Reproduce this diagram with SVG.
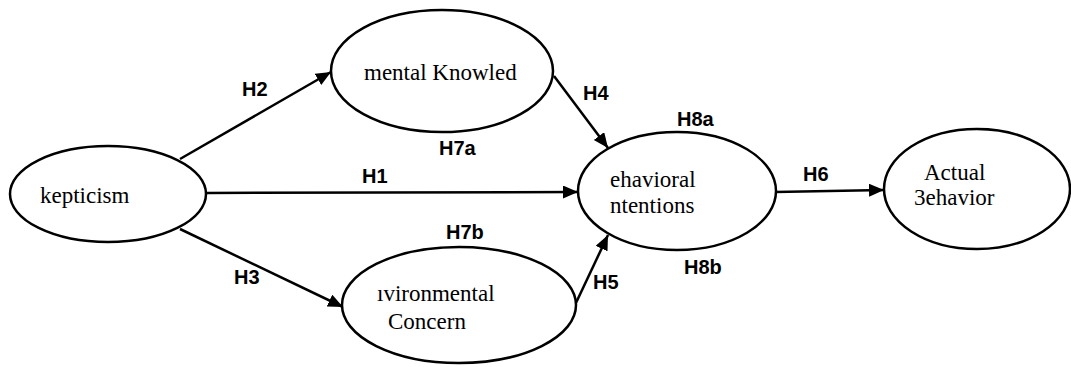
<svg xmlns="http://www.w3.org/2000/svg" width="1071" height="367" viewBox="0 0 1071 367">
<style>
.node ellipse{fill:#fff;stroke:#000;stroke-width:2.5}
.nt{font-family:"Liberation Serif","Times New Roman",serif;font-size:23px;fill:#000}
.lbl{font-family:"Liberation Sans",Arial,sans-serif;font-size:20px;font-weight:bold;fill:#000}
.edge{stroke:#000;stroke-width:2.5;fill:none;marker-end:url(#arr)}
</style>
<defs>
<marker id="arr" markerUnits="userSpaceOnUse" markerWidth="16" markerHeight="14" refX="15" refY="6.5" orient="auto">
<path d="M0,0 L15,6.5 L0,13 z" fill="#000"/>
</marker>
</defs>
<rect width="1071" height="367" fill="#fff"/>
<g id="connectors">
<line class="edge" x1="180" y1="159" x2="331" y2="72"/>
<line class="edge" x1="207" y1="193" x2="578" y2="192"/>
<line class="edge" x1="180" y1="229" x2="343" y2="307"/>
<line class="edge" x1="554" y1="76" x2="608" y2="148"/>
<line class="edge" x1="575" y1="305" x2="608" y2="235"/>
<line class="edge" x1="775" y1="192" x2="884" y2="190"/>
</g>
<g id="skepticism" class="node">
<ellipse cx="108" cy="194" rx="98" ry="48"/>
<text class="nt" x="40" y="203">kepticism</text>
</g>
<g id="knowledge" class="node">
<ellipse cx="442" cy="71" rx="111" ry="61"/>
<text class="nt" x="364" y="80">mental Knowled</text>
</g>
<g id="concern" class="node">
<ellipse cx="459" cy="305" rx="117" ry="58"/>
<text class="nt" x="377" y="301">ıvironmental</text>
<text class="nt" x="388" y="329">Concern</text>
</g>
<g id="intentions" class="node">
<ellipse cx="677" cy="191" rx="99" ry="59"/>
<text class="nt" x="610" y="187">ehavioral</text>
<text class="nt" x="610" y="213">ntentions</text>
</g>
<g id="behavior" class="node">
<ellipse cx="977" cy="189" rx="93" ry="60"/>
<text class="nt" x="924" y="180">Actual</text>
<text class="nt" x="914" y="205">3ehavior</text>
</g>
<g id="labels">
<text class="lbl" x="242" y="96">H2</text>
<text class="lbl" x="362" y="183">H1</text>
<text class="lbl" x="234" y="284">H3</text>
<text class="lbl" x="583" y="100">H4</text>
<text class="lbl" x="593" y="289">H5</text>
<text class="lbl" x="803" y="181">H6</text>
<text class="lbl" x="439" y="155">H7a</text>
<text class="lbl" x="446" y="239">H7b</text>
<text class="lbl" x="677" y="126">H8a</text>
<text class="lbl" x="684" y="274">H8b</text>
</g>
</svg>
